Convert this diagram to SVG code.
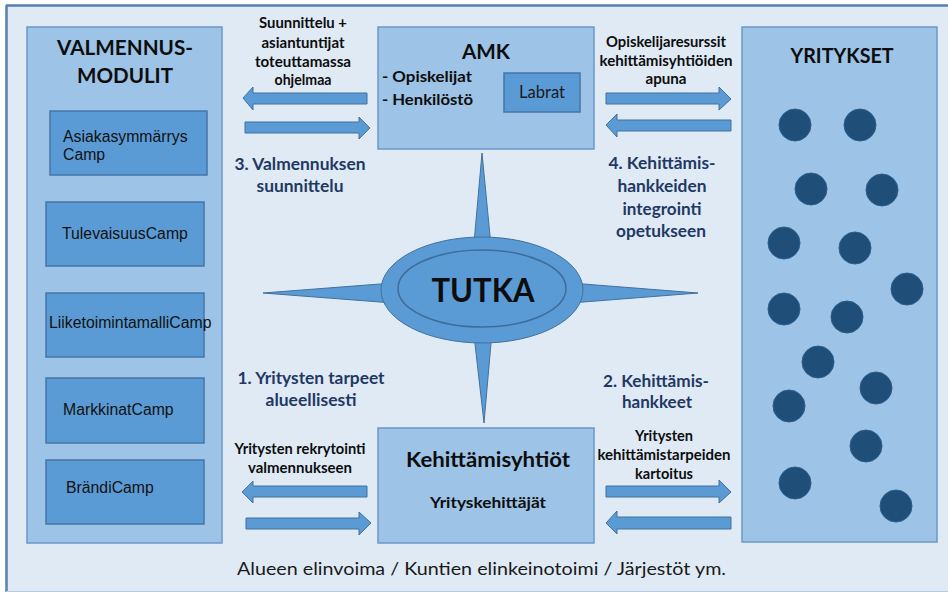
<svg xmlns="http://www.w3.org/2000/svg" width="948" height="593" viewBox="0 0 948 593">
  <style>
    .panel { fill: #9dc3e6; stroke: #6b98c9; stroke-width: 1.5; }
    .camp { fill: #5b9bd5; stroke: #4576a8; stroke-width: 1.5; }
    .arrow { fill: #5b9bd5; stroke: #41719c; stroke-width: 1; }
    .dot { fill: #1f4e79; stroke: #2c5d8c; stroke-width: 1; }
    .star { fill: #5b9bd5; stroke: #41719c; stroke-width: 1; }
    .title { font-family: Lato, "Noto Sans", sans-serif; font-weight: 700; fill: #0d0d0d; text-anchor: middle; }
    .note { font-family: Lato, "Noto Sans", sans-serif; font-weight: 700; font-size: 14.5px; fill: #0d0d0d; text-anchor: middle; }
    .step { font-family: Lato, "Noto Sans", sans-serif; font-weight: 700; font-size: 17px; fill: #1f3864; text-anchor: middle; }
    .campText { font-family: "Liberation Sans", Arial, sans-serif; font-size: 15.8px; fill: #111111; }
    .plain { font-family: Lato, "Noto Sans", sans-serif; fill: #1a1a1a; }
  </style>

  <!-- background frame -->
  <rect x="6" y="5" width="960" height="587" fill="#dfeaf5"/>
  <line x1="6" y1="5.5" x2="948" y2="5.5" stroke="#5580b0" stroke-width="2.5"/>
  <line x1="6.5" y1="5" x2="6.5" y2="592" stroke="#5580b0" stroke-width="2.5"/>
  <line x1="6" y1="591.5" x2="948" y2="591.5" stroke="#b0cce6" stroke-width="1.2"/>

  <!-- coaching modules -->
  <g id="valmennusmodulit">
    <rect class="panel" x="27" y="27" width="195" height="516"/>
    <text class="title" x="125" y="55" font-size="21.5" textLength="136" lengthAdjust="spacingAndGlyphs">VALMENNUS-</text>
    <text class="title" x="125" y="83" font-size="21.5" textLength="96" lengthAdjust="spacingAndGlyphs">MODULIT</text>
  </g>
  <g id="camp-asiakasymmarrys">
    <rect class="camp" x="50" y="111" width="157" height="64"/>
    <text class="campText" x="63" y="142">Asiakasymmärrys</text>
    <text class="campText" x="63" y="160">Camp</text>
  </g>
  <g id="camp-tulevaisuus">
    <rect class="camp" x="46" y="202" width="158" height="64"/>
    <text class="campText" x="62" y="239">TulevaisuusCamp</text>
  </g>
  <g id="camp-liiketoimintamalli">
    <rect class="camp" x="46" y="293" width="158" height="64"/>
    <text class="campText" x="49" y="328" font-size="14.7">LiiketoimintamalliCamp</text>
  </g>
  <g id="camp-markkinat">
    <rect class="camp" x="46" y="378" width="158" height="65"/>
    <text class="campText" x="63" y="415">MarkkinatCamp</text>
  </g>
  <g id="camp-brandi">
    <rect class="camp" x="46" y="460" width="158" height="64"/>
    <text class="campText" x="66" y="493">BrändiCamp</text>
  </g>

  <!-- university -->
  <g id="amk">
    <rect class="panel" x="378" y="27" width="216" height="122"/>
    <text class="title" x="486" y="59" font-size="21" textLength="48" lengthAdjust="spacingAndGlyphs">AMK</text>
    <text class="title" x="382" y="82" font-size="15.5" style="text-anchor:start" textLength="90" lengthAdjust="spacingAndGlyphs">- Opiskelijat</text>
    <text class="title" x="382" y="105" font-size="15.5" style="text-anchor:start" textLength="91" lengthAdjust="spacingAndGlyphs">- Henkilöstö</text>
  </g>
  <g id="labrat">
    <rect class="camp" x="504" y="73" width="76" height="39"/>
    <text class="plain" x="542" y="98" font-size="16.5" text-anchor="middle" textLength="46" lengthAdjust="spacingAndGlyphs">Labrat</text>
  </g>

  <!-- companies -->
  <g id="yritykset">
    <rect class="panel" x="742" y="27" width="195" height="515"/>
    <text class="title" x="842" y="63" font-size="20" textLength="103" lengthAdjust="spacingAndGlyphs">YRITYKSET</text>
    <circle class="dot" cx="795" cy="125" r="16"/>
    <circle class="dot" cx="860" cy="125" r="16"/>
    <circle class="dot" cx="811" cy="189" r="16"/>
    <circle class="dot" cx="882" cy="190" r="16"/>
    <circle class="dot" cx="784" cy="243" r="16"/>
    <circle class="dot" cx="855" cy="248" r="16"/>
    <circle class="dot" cx="907" cy="289" r="16"/>
    <circle class="dot" cx="784" cy="309" r="16"/>
    <circle class="dot" cx="847" cy="317" r="16"/>
    <circle class="dot" cx="818" cy="362" r="16"/>
    <circle class="dot" cx="876" cy="388" r="16"/>
    <circle class="dot" cx="789" cy="406" r="16"/>
    <circle class="dot" cx="866" cy="446" r="16"/>
    <circle class="dot" cx="795" cy="483" r="16"/>
    <circle class="dot" cx="896" cy="506" r="16"/>
  </g>

  <!-- development companies -->
  <g id="kehittamisyhtiot">
    <rect class="panel" x="378" y="428" width="216" height="115"/>
    <text class="title" x="488" y="467" font-size="21.5" textLength="164" lengthAdjust="spacingAndGlyphs">Kehittämisyhtiöt</text>
    <text class="title" x="488" y="508" font-size="15.5" textLength="116" lengthAdjust="spacingAndGlyphs">Yrityskehittäjät</text>
  </g>

  <!-- central compass -->
  <g id="tutka">
    <polygon class="star" points="482,153 494,277 698,293 494,309 484,423 471,309 263,293 471,277"/>
    <ellipse class="star" cx="482" cy="290" rx="101" ry="53"/>
    <ellipse cx="482" cy="288.5" rx="84" ry="38.5" fill="#5b9bd5" stroke="#3f6c99" stroke-width="1.5"/>
    <text class="title" x="483" y="302" font-size="33" textLength="103" lengthAdjust="spacingAndGlyphs">TUTKA</text>
  </g>

  <!-- arrows between the blocks -->
  <g id="connectors">
    <polygon class="arrow" points="243,98 253,87 253,93 367,93 367,104 253,104 253,110"/>
    <polygon class="arrow" points="245,122 359,122 359,117 370,128 359,139 359,133 245,133"/>
    <polygon class="arrow" points="606,93 719,93 719,87 731,99 719,110 719,104 606,104"/>
    <polygon class="arrow" points="606,125 617,114 617,120 731,120 731,131 617,131 617,137"/>
    <polygon class="arrow" points="242,492 253,481 253,486 367,486 367,497 253,497 253,503"/>
    <polygon class="arrow" points="246,518 359,518 359,512 371,523 359,535 359,529 246,529"/>
    <polygon class="arrow" points="606,486 719,486 719,480 731,492 719,503 719,497 606,497"/>
    <polygon class="arrow" points="606,523 617,511 617,517 731,517 731,529 617,529 617,534"/>
  </g>

  <!-- flow labels -->
  <g id="labels">
    <text class="note" x="303" y="28" textLength="88" lengthAdjust="spacingAndGlyphs">Suunnittelu +</text>
    <text class="note" x="303" y="48" textLength="83" lengthAdjust="spacingAndGlyphs">asiantuntijat</text>
    <text class="note" x="303" y="67" textLength="96" lengthAdjust="spacingAndGlyphs">toteuttamassa</text>
    <text class="note" x="303" y="85" textLength="57" lengthAdjust="spacingAndGlyphs">ohjelmaa</text>

    <text class="note" x="666" y="47" textLength="120" lengthAdjust="spacingAndGlyphs">Opiskelijaresurssit</text>
    <text class="note" x="666" y="66" textLength="133" lengthAdjust="spacingAndGlyphs">kehittämisyhtiöiden</text>
    <text class="note" x="666" y="84" textLength="41" lengthAdjust="spacingAndGlyphs">apuna</text>

    <text class="note" x="300" y="454" textLength="131" lengthAdjust="spacingAndGlyphs">Yritysten rekrytointi</text>
    <text class="note" x="300" y="473" textLength="104" lengthAdjust="spacingAndGlyphs">valmennukseen</text>

    <text class="note" x="664" y="441" textLength="58" lengthAdjust="spacingAndGlyphs">Yritysten</text>
    <text class="note" x="664" y="460" textLength="133" lengthAdjust="spacingAndGlyphs">kehittämistarpeiden</text>
    <text class="note" x="664" y="479" textLength="58" lengthAdjust="spacingAndGlyphs">kartoitus</text>

    <text class="step" x="300" y="170" textLength="131" lengthAdjust="spacingAndGlyphs">3. Valmennuksen</text>
    <text class="step" x="300" y="192" textLength="87" lengthAdjust="spacingAndGlyphs">suunnittelu</text>

    <text class="step" x="662" y="169" textLength="107" lengthAdjust="spacingAndGlyphs">4. Kehittämis-</text>
    <text class="step" x="662" y="192" textLength="89" lengthAdjust="spacingAndGlyphs">hankkeiden</text>
    <text class="step" x="662" y="215" textLength="79" lengthAdjust="spacingAndGlyphs">integrointi</text>
    <text class="step" x="661" y="237" textLength="90" lengthAdjust="spacingAndGlyphs">opetukseen</text>

    <text class="step" x="311" y="384" textLength="147" lengthAdjust="spacingAndGlyphs">1. Yritysten tarpeet</text>
    <text class="step" x="311" y="406" textLength="91" lengthAdjust="spacingAndGlyphs">alueellisesti</text>

    <text class="step" x="656" y="387" textLength="106" lengthAdjust="spacingAndGlyphs">2. Kehittämis-</text>
    <text class="step" x="657" y="408" textLength="70" lengthAdjust="spacingAndGlyphs">hankkeet</text>

    <text class="plain" x="237" y="575" font-size="18" textLength="489" lengthAdjust="spacingAndGlyphs">Alueen elinvoima / Kuntien elinkeinotoimi / Järjestöt ym.</text>
  </g>
</svg>
